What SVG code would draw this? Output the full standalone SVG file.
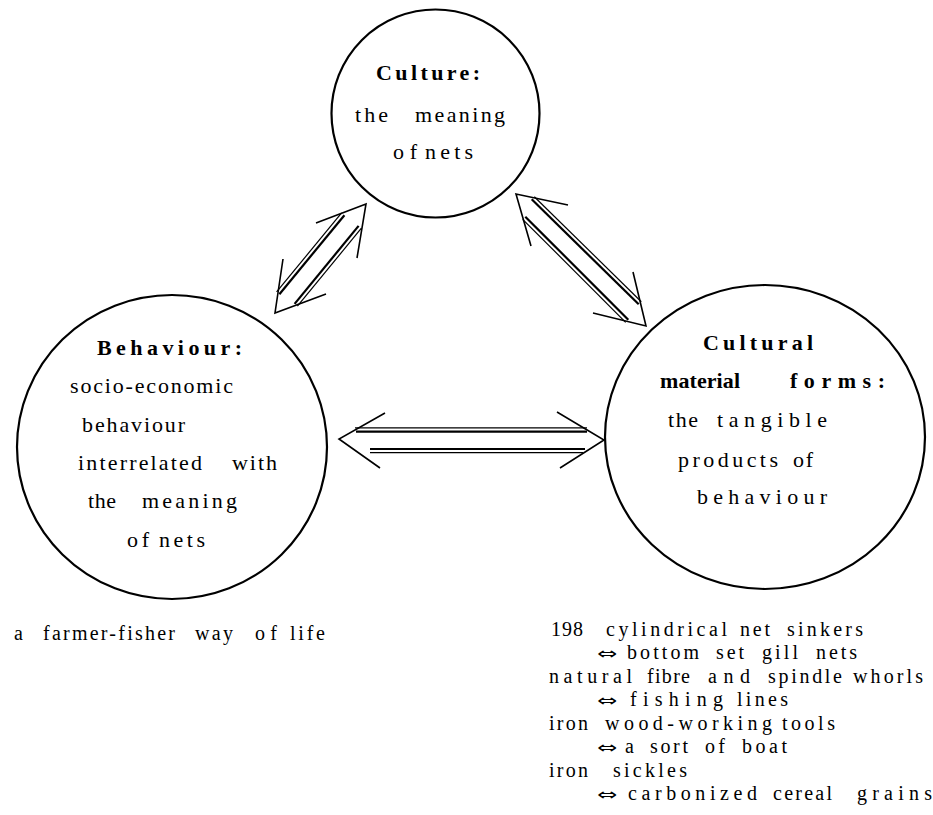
<svg xmlns="http://www.w3.org/2000/svg" width="933" height="815" viewBox="0 0 933 815">
<style>
.node{fill:none;stroke:#000;stroke-width:2.2}
text{font-family:"Liberation Serif","Times New Roman",serif;fill:#000}
.t{font-size:22px}
.b{font-weight:bold}
.s{font-size:20px}
.ar{font-family:"DejaVu Sans",sans-serif;font-size:16px}
.head{fill:none;stroke:#000;stroke-width:1.6;stroke-linejoin:miter}
.thin{stroke:#000;stroke-width:1.2;fill:none}
.thick{stroke:#000;stroke-width:2.2;fill:none}
</style>
<rect width="933" height="815" fill="#fff"/>

<g id="culture">
<circle class="node" cx="435.5" cy="113.5" r="104"/>
<text class="t b" x="376" y="80" textLength="104" lengthAdjust="spacing">Culture:</text>
<text class="t" x="355" y="122" textLength="33" lengthAdjust="spacing">the</text>
<text class="t" x="415" y="122" textLength="90" lengthAdjust="spacing">meaning</text>
<text class="t" x="393" y="159" textLength="24" lengthAdjust="spacing">of</text>
<text class="t" x="425" y="159" textLength="48" lengthAdjust="spacing">nets</text>
</g>

<g id="behaviour">
<ellipse class="node" cx="172" cy="447" rx="155" ry="152"/>
<text class="t b" x="97" y="355" textLength="145" lengthAdjust="spacing">Behaviour:</text>
<text class="t" x="70" y="393" textLength="163" lengthAdjust="spacing">socio-economic</text>
<text class="t" x="82" y="432" textLength="103" lengthAdjust="spacing">behaviour</text>
<text class="t" x="78" y="470" textLength="124" lengthAdjust="spacing">interrelated</text>
<text class="t" x="232" y="470" textLength="45" lengthAdjust="spacing">with</text>
<text class="t" x="88" y="508" textLength="28" lengthAdjust="spacing">the</text>
<text class="t" x="142" y="508" textLength="95" lengthAdjust="spacing">meaning</text>
<text class="t" x="127" y="547" textLength="22" lengthAdjust="spacing">of</text>
<text class="t" x="159" y="547" textLength="46" lengthAdjust="spacing">nets</text>
</g>

<g id="material">
<ellipse class="node" cx="765" cy="437" rx="160" ry="152"/>
<text class="t b" x="703" y="350" textLength="110" lengthAdjust="spacing">Cultural</text>
<text class="t b" x="660" y="388" textLength="80" lengthAdjust="spacing">material</text>
<text class="t b" x="790" y="388" textLength="95" lengthAdjust="spacing">forms:</text>
<text class="t" x="668" y="427" textLength="30" lengthAdjust="spacing">the</text>
<text class="t" x="717" y="427" textLength="110" lengthAdjust="spacing">tangible</text>
<text class="t" x="678" y="467" textLength="100" lengthAdjust="spacing">products</text>
<text class="t" x="793" y="467" textLength="20" lengthAdjust="spacing">of</text>
<text class="t" x="697" y="504" textLength="130" lengthAdjust="spacing">behaviour</text>
</g>

<g id="connectors">
<polyline class="head" points="316,223 366,204 357,258"/>
<polyline class="head" points="283,259 275,313 326,294"/>
<line class="thin" x1="341.6" y1="212.9" x2="276.6" y2="291.9"/>
<line class="thick" x1="344.4" y1="215.2" x2="279.4" y2="294.2"/>
<line class="thick" x1="358.6" y1="225.9" x2="294.6" y2="303.9"/>
<line class="thin" x1="361.4" y1="228.2" x2="297.4" y2="306.2"/>
<polyline class="head" points="568,205 516,194 531,246"/>
<polyline class="head" points="633,272 646,326 593,313"/>
<line class="thin" x1="534.3" y1="196.7" x2="641.3" y2="301.7"/>
<line class="thick" x1="531.7" y1="199.3" x2="638.7" y2="304.3"/>
<line class="thick" x1="525.3" y1="216.7" x2="628.3" y2="319.7"/>
<line class="thin" x1="522.7" y1="219.3" x2="625.7" y2="322.3"/>
<polyline class="head" points="385,413 339,439 380,468"/>
<polyline class="head" points="557,412 604,440 560,468"/>
<line class="thin" x1="355" y1="427.8" x2="587" y2="427.8"/>
<line class="thick" x1="356" y1="431.6" x2="587" y2="431.6"/>
<line class="thick" x1="370" y1="449" x2="585" y2="449"/>
<line class="thin" x1="370" y1="452.6" x2="583" y2="452.6"/>
</g>

<g id="caption-left">
<text class="s" x="14" y="640">a</text>
<text class="s" x="43" y="640" textLength="132" lengthAdjust="spacing">farmer-fisher</text>
<text class="s" x="195" y="640" textLength="38" lengthAdjust="spacing">way</text>
<text class="s" x="255" y="640" textLength="22" lengthAdjust="spacing">of</text>
<text class="s" x="290" y="640" textLength="35" lengthAdjust="spacing">life</text>
</g>

<g id="caption-right">
<text class="s" x="551" y="636" textLength="32" lengthAdjust="spacing">198</text>
<text class="s" x="606" y="636" textLength="121" lengthAdjust="spacing">cylindrical</text>
<text class="s" x="740" y="636" textLength="30" lengthAdjust="spacing">net</text>
<text class="s" x="787" y="636" textLength="76" lengthAdjust="spacing">sinkers</text>

<text class="ar" x="597" y="659" textLength="20" lengthAdjust="spacingAndGlyphs">⇔</text>
<text class="s" x="627" y="659" textLength="72" lengthAdjust="spacing">bottom</text>
<text class="s" x="716" y="659" textLength="28" lengthAdjust="spacing">set</text>
<text class="s" x="762" y="659" textLength="36" lengthAdjust="spacing">gill</text>
<text class="s" x="816" y="659" textLength="41" lengthAdjust="spacing">nets</text>

<text class="s" x="549" y="683" textLength="83" lengthAdjust="spacing">natural</text>
<text class="s" x="647" y="683" textLength="43" lengthAdjust="spacing">fibre</text>
<text class="s" x="708" y="683" textLength="42" lengthAdjust="spacing">and</text>
<text class="s" x="768" y="683" textLength="74" lengthAdjust="spacing">spindle</text>
<text class="s" x="853" y="683" textLength="70" lengthAdjust="spacing">whorls</text>

<text class="ar" x="597" y="706" textLength="20" lengthAdjust="spacingAndGlyphs">⇔</text>
<text class="s" x="630" y="706" textLength="93" lengthAdjust="spacing">fishing</text>
<text class="s" x="737" y="706" textLength="51" lengthAdjust="spacing">lines</text>

<text class="s" x="549" y="730" textLength="39" lengthAdjust="spacing">iron</text>
<text class="s" x="605" y="730" textLength="167" lengthAdjust="spacing">wood-working</text>
<text class="s" x="782" y="730" textLength="53" lengthAdjust="spacing">tools</text>

<text class="ar" x="597" y="753" textLength="20" lengthAdjust="spacingAndGlyphs">⇔</text>
<text class="s" x="625" y="753">a</text>
<text class="s" x="650" y="753" textLength="38" lengthAdjust="spacing">sort</text>
<text class="s" x="705" y="753" textLength="20" lengthAdjust="spacing">of</text>
<text class="s" x="742" y="753" textLength="45" lengthAdjust="spacing">boat</text>

<text class="s" x="549" y="777" textLength="39" lengthAdjust="spacing">iron</text>
<text class="s" x="613" y="777" textLength="74" lengthAdjust="spacing">sickles</text>

<text class="ar" x="597" y="800" textLength="20" lengthAdjust="spacingAndGlyphs">⇔</text>
<text class="s" x="628" y="800" textLength="129" lengthAdjust="spacing">carbonized</text>
<text class="s" x="773" y="800" textLength="59" lengthAdjust="spacing">cereal</text>
<text class="s" x="857" y="800" textLength="75" lengthAdjust="spacing">grains</text>
</g>
</svg>
